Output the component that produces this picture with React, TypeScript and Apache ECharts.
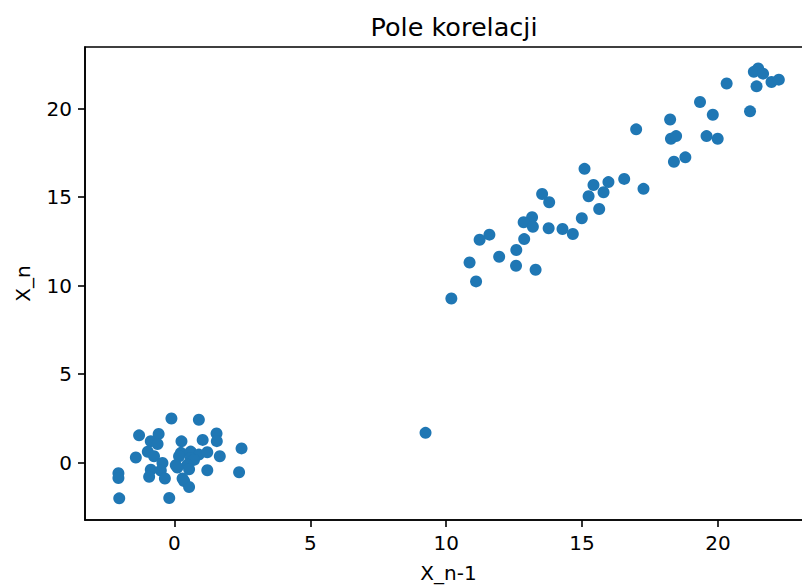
import React, { useEffect, useRef } from "react";
import * as echarts from "echarts";

const TITLE = "Pole korelacji";
const X_NAME = "X_n-1";
const Y_NAME = "X_n";
const TICKS = [0, 5, 10, 15, 20];

// X_{n-1} values
const xPrev: number[] = [
  -0.11, 0.9, -1.3, -0.58, 1.55, 1.56, 1.04, 0.26, -0.87, -0.62, 2.47, -1.42, -0.98, -0.75, -0.44,
  0.24, 0.6, 0.9, 1.21, 1.67, 0.17, 0.6, 0.72, 0.05, 0.48, 0.11, 0.54, 1.21, 2.38, -0.87, -0.5,
  -0.93, -0.35, -2.06, -2.06, 0.36, 0.54, 0.3, -2.03, -0.19,
  9.24,
  15.09, 15.42, 15.97, 16.55, 17.26, 15.24, 15.79, 15.63, 13.53, 13.79, 14.99, 13.16, 12.85, 13.19,
  13.77, 14.28, 14.66, 11.59, 11.23, 12.87, 12.58, 11.95, 10.86, 12.57, 13.29, 11.1, 10.19,
  21.48, 21.32, 21.66, 21.42, 21.97, 22.24, 20.32, 19.34, 19.81, 21.18, 18.24, 16.99, 18.27, 18.46,
  19.58, 19.99, 18.38, 18.8,
];

// X_n values
const xCurr: number[] = [
  2.49, 2.42, 1.54, 1.62, 1.64, 1.21, 1.28, 1.2, 1.21, 1.05, 0.8, 0.29, 0.61, 0.36, -0.02,
  0.55, 0.62, 0.45, 0.58, 0.36, 0.36, 0.25, 0.15, -0.15, -0.12, -0.28, -0.38, -0.43, -0.55, -0.4, -0.45,
  -0.8, -0.9, -0.6, -0.87, -1.05, -1.38, -0.9, -2.02, -2.0,
  1.68,
  16.6, 15.69, 15.85, 16.03, 15.47, 15.05, 15.28, 14.33, 15.18, 14.71, 13.81, 13.86, 13.58, 13.33,
  13.24, 13.2, 12.92, 12.88, 12.59, 12.63, 12.01, 11.63, 11.31, 11.12, 10.9, 10.24, 9.27,
  22.27, 22.08, 21.98, 21.26, 21.51, 21.64, 21.42, 20.38, 19.66, 19.85, 19.39, 18.83, 18.3, 18.45,
  18.45, 18.3, 17.0, 17.25,
];

const FONT = "DejaVu Sans";

export default function App() {
  const ref = useRef<HTMLDivElement>(null);
  useEffect(() => {
    if (!ref.current) return;
    const chart = echarts.init(ref.current, null, { renderer: "svg" });
    const pts = xPrev.map((x, i) => [x, xCurr[i]]);
    const axisCommon = {
      type: "value" as const,
      nameLocation: "middle" as const,
      nameTextStyle: { fontFamily: FONT, fontSize: 20, color: "#000" },
      axisLine: { show: true, onZero: false, lineStyle: { color: "#000", width: 1.6 } },
      axisTick: { show: true, inside: false, length: 7, customValues: TICKS, lineStyle: { color: "#000", width: 1.6 } },
      axisLabel: { customValues: TICKS, fontFamily: FONT, fontSize: 20, color: "#000", margin: 13 },
      splitLine: { show: false },
    };
    chart.setOption({
      animation: false,
      backgroundColor: "#fff",
      title: {
        text: TITLE,
        left: 449,
        textAlign: "center",
        top: 9,
        textStyle: { fontFamily: FONT, fontSize: 25.5, fontWeight: "normal", color: "#000" },
      },
      grid: {
        left: 85,
        top: 47,
        right: 10,
        bottom: 68,
        show: true,
        borderColor: "#000",
        borderWidth: 1.6,
        backgroundColor: "#fff",
      },
      xAxis: {
        ...axisCommon,
        name: X_NAME,
        nameGap: 43,
        min: -3.29,
        max: 23.46,
      },
      yAxis: {
        ...axisCommon,
        name: Y_NAME,
        nameGap: 52,
        min: -3.245,
        max: 23.485,
      },
      series: [
        {
          type: "scatter",
          data: pts,
          symbolSize: 12,
          itemStyle: { color: "#1f77b4", opacity: 1 },
        },
      ],
    });
    return () => chart.dispose();
  }, []);
  return (
    <div style={{ position: "absolute", left: 0, top: 0, width: 802, height: 588, overflow: "hidden" }}>
      <div ref={ref} style={{ width: 822, height: 588 }} />
    </div>
  );
}
